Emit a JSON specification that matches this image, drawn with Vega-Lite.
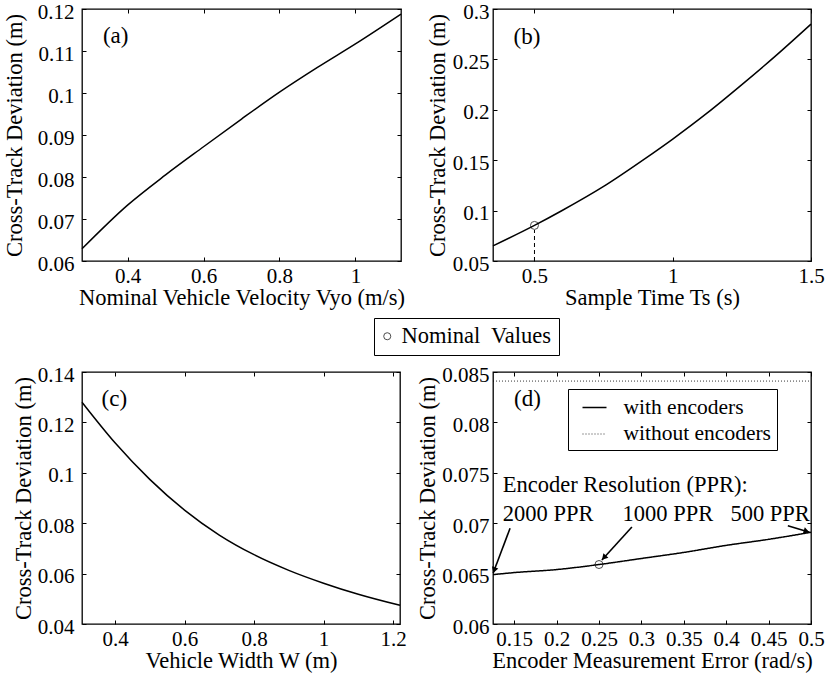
{
  "$schema": "https://vega.github.io/schema/vega-lite/v6.json",
  "background": "white",
  "padding": {"left": 2, "top": 0, "right": 5, "bottom": 5},
  "datasets": {
    "a": [
      {"v": 0.28, "d": 0.0629}, {"v": 0.4, "d": 0.0733}, {"v": 0.5, "d": 0.0805},
      {"v": 0.6, "d": 0.0872}, {"v": 0.7, "d": 0.0938}, {"v": 0.8, "d": 0.1002},
      {"v": 0.9, "d": 0.1061}, {"v": 1.0, "d": 0.1117}, {"v": 1.12, "d": 0.1188}
    ],
    "b": [
      {"v": 0.35, "d": 0.065}, {"v": 0.5, "d": 0.0853}, {"v": 0.6, "d": 0.1001},
      {"v": 0.75, "d": 0.124}, {"v": 0.9, "d": 0.1516}, {"v": 1.0, "d": 0.171},
      {"v": 1.125, "d": 0.1969}, {"v": 1.25, "d": 0.225}, {"v": 1.37, "d": 0.253},
      {"v": 1.5, "d": 0.285}
    ],
    "bnom": [{"v": 0.5, "d": 0.0853, "d0": 0.05, "d1": 0.0808, "lab": "Nominal\u00a0 Values"}],
    "c": [
      {"v": 0.305, "d": 0.128}, {"v": 0.4, "d": 0.1119}, {"v": 0.5, "d": 0.0974},
      {"v": 0.6, "d": 0.0852}, {"v": 0.7, "d": 0.0753}, {"v": 0.8, "d": 0.0675},
      {"v": 0.9, "d": 0.0613}, {"v": 1.0, "d": 0.0562}, {"v": 1.1, "d": 0.0518},
      {"v": 1.22, "d": 0.0474}
    ],
    "d": [
      {"v": 0.125, "d": 0.0649, "s": "with encoders"}, {"v": 0.15, "d": 0.0651, "s": "with encoders"},
      {"v": 0.2, "d": 0.0654, "s": "with encoders"}, {"v": 0.25, "d": 0.0659, "s": "with encoders"},
      {"v": 0.3, "d": 0.0665, "s": "with encoders"}, {"v": 0.35, "d": 0.0671, "s": "with encoders"},
      {"v": 0.4, "d": 0.0678, "s": "with encoders"}, {"v": 0.45, "d": 0.0684, "s": "with encoders"},
      {"v": 0.5, "d": 0.0691, "s": "with encoders"},
      {"v": 0.125, "d": 0.0841, "s": "without encoders"}, {"v": 0.5, "d": 0.0841, "s": "without encoders"}
    ],
    "dnom": [{"v": 0.25, "d": 0.0659}],
    "arrows": [
      {"id": "2000", "x0": 0.1451, "y0": 0.06949, "x1": 0.1252, "y1": 0.06506, "hx": 0.1268, "hy": 0.06543},
      {"id": "1000", "x0": 0.2888, "y0": 0.06962, "x1": 0.2534, "y1": 0.06635, "hx": 0.2566, "hy": 0.06665},
      {"id": "500", "x0": 0.4727, "y0": 0.06975, "x1": 0.4982, "y1": 0.0691, "hx": 0.4937, "hy": 0.06922}
    ],
    "notes": [
      {"v": 0.1365, "d": 0.0731, "t": "Encoder Resolution (PPR):"},
      {"v": 0.1365, "d": 0.07025, "t": "2000 PPR"},
      {"v": 0.2778, "d": 0.07025, "t": "1000 PPR"},
      {"v": 0.405, "d": 0.07025, "t": "500 PPR"}
    ],
    "tags": [
      {"p": "a", "v": 0.3687, "d": 0.1136, "t": "(a)"},
      {"p": "b", "v": 0.4729, "d": 0.2719, "t": "(b)"},
      {"p": "c", "v": 0.398, "d": 0.1293, "t": "(c)"},
      {"p": "d", "v": 0.1656, "d": 0.0823, "t": "(d)"}
    ]
  },
  "columns": 2,
  "spacing": {"row": 111, "column": 92},
  "bounds": "flush",
  "concat": [
    {
      "width": 319, "height": 252,
      "layer": [
        {
          "data": {"name": "a"},
          "mark": {"type": "line", "color": "black", "strokeWidth": 1.5, "interpolate": "monotone"},
          "encoding": {
            "x": {"field": "v", "type": "quantitative", "scale": {"domain": [0.28, 1.12], "nice": false, "zero": false},
                  "axis": {"values": [0.4, 0.6, 0.8, 1], "title": "Nominal Vehicle Velocity Vyo (m/s)"}},
            "y": {"field": "d", "type": "quantitative", "scale": {"domain": [0.06, 0.12], "nice": false, "zero": false},
                  "axis": {"values": [0.06, 0.07, 0.08, 0.09, 0.1, 0.11, 0.12], "title": "Cross-Track Deviation (m)"}}
          }
        },
        {
          "data": {"name": "tags"},
          "transform": [{"filter": "datum.p === 'a'"}],
          "mark": {"type": "text", "font": "Liberation Serif", "fontSize": 23, "color": "black", "align": "center", "baseline": "middle"},
          "encoding": {
            "x": {"field": "v", "type": "quantitative", "axis": {"orient": "top", "labels": false, "title": null, "values": [0.4, 0.6, 0.8, 1]}},
            "y": {"field": "d", "type": "quantitative", "axis": {"orient": "right", "labels": false, "title": null, "values": [0.06, 0.07, 0.08, 0.09, 0.1, 0.11, 0.12]}},
            "text": {"field": "t"}
          }
        }
      ],
      "resolve": {"axis": {"x": "independent", "y": "independent"}}
    },
    {
      "width": 318, "height": 252,
      "layer": [
        {
          "data": {"name": "b"},
          "mark": {"type": "line", "color": "black", "strokeWidth": 1.5, "interpolate": "monotone"},
          "encoding": {
            "x": {"field": "v", "type": "quantitative", "scale": {"domain": [0.35, 1.5], "nice": false, "zero": false},
                  "axis": {"values": [0.5, 1, 1.5], "title": "Sample Time Ts (s)"}},
            "y": {"field": "d", "type": "quantitative", "scale": {"domain": [0.05, 0.3], "nice": false, "zero": false},
                  "axis": {"values": [0.05, 0.1, 0.15, 0.2, 0.25, 0.3], "title": "Cross-Track Deviation (m)", "labelPadding": 8, "titlePadding": 2.5}}
          }
        },
        {
          "data": {"name": "bnom"},
          "mark": {"type": "rule", "color": "black", "strokeWidth": 1, "strokeDash": [4, 3]},
          "encoding": {
            "x": {"field": "v", "type": "quantitative", "axis": null},
            "y": {"field": "d0", "type": "quantitative", "axis": null},
            "y2": {"field": "d1"}
          }
        },
        {
          "data": {"name": "bnom"},
          "mark": {"type": "point", "filled": false, "color": "black", "size": 64, "strokeWidth": 1},
          "encoding": {
            "x": {"field": "v", "type": "quantitative", "axis": null},
            "y": {"field": "d", "type": "quantitative", "axis": null},
            "shape": {"field": "lab", "type": "nominal", "scale": {"range": ["circle"]},
              "legend": {"orient": "none", "legendX": 292, "legendY": 309, "title": null,
                "strokeColor": "black", "padding": 7, "symbolOffset": -5, "labelOffset": 3,
                "labelFontSize": 22.5, "symbolSize": 50, "symbolStrokeColor": "black",
                "symbolStrokeWidth": 1, "symbolFillColor": "transparent"}}
          }
        },
        {
          "data": {"name": "tags"},
          "transform": [{"filter": "datum.p === 'b'"}],
          "mark": {"type": "text", "font": "Liberation Serif", "fontSize": 23, "color": "black", "align": "center", "baseline": "middle"},
          "encoding": {
            "x": {"field": "v", "type": "quantitative", "axis": {"orient": "top", "labels": false, "title": null, "values": [0.5, 1, 1.5]}},
            "y": {"field": "d", "type": "quantitative", "axis": {"orient": "right", "labels": false, "title": null, "values": [0.05, 0.1, 0.15, 0.2, 0.25, 0.3]}},
            "text": {"field": "t"}
          }
        }
      ],
      "resolve": {"axis": {"x": "independent", "y": "independent"}}
    },
    {
      "width": 318, "height": 252,
      "layer": [
        {
          "data": {"name": "c"},
          "mark": {"type": "line", "color": "black", "strokeWidth": 1.5, "interpolate": "monotone"},
          "encoding": {
            "x": {"field": "v", "type": "quantitative", "scale": {"domain": [0.305, 1.22], "nice": false, "zero": false},
                  "axis": {"values": [0.4, 0.6, 0.8, 1, 1.2], "title": "Vehicle Width W (m)"}},
            "y": {"field": "d", "type": "quantitative", "scale": {"domain": [0.04, 0.14], "nice": false, "zero": false},
                  "axis": {"values": [0.04, 0.06, 0.08, 0.1, 0.12, 0.14], "title": "Cross-Track Deviation (m)", "titlePadding": 2}}
          }
        },
        {
          "data": {"name": "tags"},
          "transform": [{"filter": "datum.p === 'c'"}],
          "mark": {"type": "text", "font": "Liberation Serif", "fontSize": 23, "color": "black", "align": "center", "baseline": "middle"},
          "encoding": {
            "x": {"field": "v", "type": "quantitative", "axis": {"orient": "top", "labels": false, "title": null, "values": [0.4, 0.6, 0.8, 1, 1.2]}},
            "y": {"field": "d", "type": "quantitative", "axis": {"orient": "right", "labels": false, "title": null, "values": [0.04, 0.06, 0.08, 0.1, 0.12, 0.14]}},
            "text": {"field": "t"}
          }
        }
      ],
      "resolve": {"axis": {"x": "independent", "y": "independent"}}
    },
    {
      "width": 318, "height": 252,
      "layer": [
        {
          "data": {"name": "d"},
          "mark": {"type": "line", "color": "black", "interpolate": "monotone"},
          "encoding": {
            "x": {"field": "v", "type": "quantitative", "scale": {"domain": [0.125, 0.5], "nice": false, "zero": false},
                  "axis": {"values": [0.15, 0.2, 0.25, 0.3, 0.35, 0.4, 0.45, 0.5], "title": "Encoder Measurement Error (rad/s)"}},
            "y": {"field": "d", "type": "quantitative", "scale": {"domain": [0.06, 0.085], "nice": false, "zero": false},
                  "axis": {"values": [0.06, 0.065, 0.07, 0.075, 0.08, 0.085], "title": "Cross-Track Deviation (m)", "labelPadding": 8, "titlePadding": 2}},
            "strokeDash": {"field": "s", "type": "nominal",
              "scale": {"domain": ["with encoders", "without encoders"], "range": [[1, 0], [1, 2]]},
              "legend": {"orient": "none", "legendX": 486, "legendY": 380, "title": null,
                "strokeColor": "black", "padding": 5.5, "symbolType": "stroke", "symbolSize": 576,
                "symbolStrokeColor": "black", "symbolStrokeWidth": 1.5, "symbolOffset": 8,
                "labelOffset": 16, "labelFontSize": 21.5, "rowPadding": 3, "labelLimit": 400}},
            "strokeWidth": {"field": "s", "type": "nominal",
              "scale": {"domain": ["with encoders", "without encoders"], "range": [1.5, 0.8]}, "legend": null}
          }
        },
        {
          "data": {"name": "arrows"},
          "mark": {"type": "rule", "color": "black", "strokeWidth": 1.6},
          "encoding": {
            "x": {"field": "x0", "type": "quantitative", "axis": null},
            "y": {"field": "y0", "type": "quantitative", "axis": null},
            "x2": {"field": "x1"},
            "y2": {"field": "y1"}
          }
        },
        {
          "data": {"name": "arrows"},
          "mark": {"type": "point", "shape": "triangle", "filled": true, "color": "black", "size": 45, "opacity": 1},
          "encoding": {
            "x": {"field": "hx", "type": "quantitative", "axis": null},
            "y": {"field": "hy", "type": "quantitative", "axis": null},
            "angle": {"field": "id", "type": "nominal", "scale": {"type": "ordinal", "domain": ["2000", "1000", "500"], "range": [199, 222, 107]}, "legend": null}
          }
        },
        {
          "data": {"name": "dnom"},
          "mark": {"type": "point", "shape": "circle", "filled": false, "color": "black", "size": 64, "strokeWidth": 1},
          "encoding": {
            "x": {"field": "v", "type": "quantitative", "axis": null},
            "y": {"field": "d", "type": "quantitative", "axis": null}
          }
        },
        {
          "data": {"name": "notes"},
          "mark": {"type": "text", "font": "Liberation Serif", "fontSize": 22.5, "color": "black", "align": "left", "baseline": "alphabetic"},
          "encoding": {
            "x": {"field": "v", "type": "quantitative", "axis": null},
            "y": {"field": "d", "type": "quantitative", "axis": null},
            "text": {"field": "t"}
          }
        },
        {
          "data": {"name": "tags"},
          "transform": [{"filter": "datum.p === 'd'"}],
          "mark": {"type": "text", "font": "Liberation Serif", "fontSize": 23, "color": "black", "align": "center", "baseline": "middle"},
          "encoding": {
            "x": {"field": "v", "type": "quantitative", "axis": {"orient": "top", "labels": false, "title": null, "values": [0.15, 0.2, 0.25, 0.3, 0.35, 0.4, 0.45, 0.5]}},
            "y": {"field": "d", "type": "quantitative", "axis": {"orient": "right", "labels": false, "title": null, "values": [0.06, 0.065, 0.07, 0.075, 0.08, 0.085]}},
            "text": {"field": "t"}
          }
        }
      ],
      "resolve": {"axis": {"x": "independent", "y": "independent"}}
    }
  ],
  "config": {
    "view": {"stroke": "black", "strokeWidth": 1.3},
    "axis": {
      "domain": false, "grid": false, "tickSize": -4, "tickColor": "black", "tickWidth": 1,
      "labelFont": "Liberation Serif", "labelFontSize": 21, "labelColor": "black",
      "labelFlush": false, "labelOverlap": false, "labelBound": false, "format": "~g",
      "titleFont": "Liberation Serif", "titleFontSize": 22.5, "titleFontWeight": "normal", "titleColor": "black"
    },
    "axisX": {"labelPadding": 8, "titlePadding": 0},
    "axisY": {"labelPadding": 12, "titlePadding": 11, "labelOffset": 3},
    "legend": {"labelFont": "Liberation Serif", "labelColor": "black", "labelFontSize": 22, "labelLimit": 400}
  }
}
